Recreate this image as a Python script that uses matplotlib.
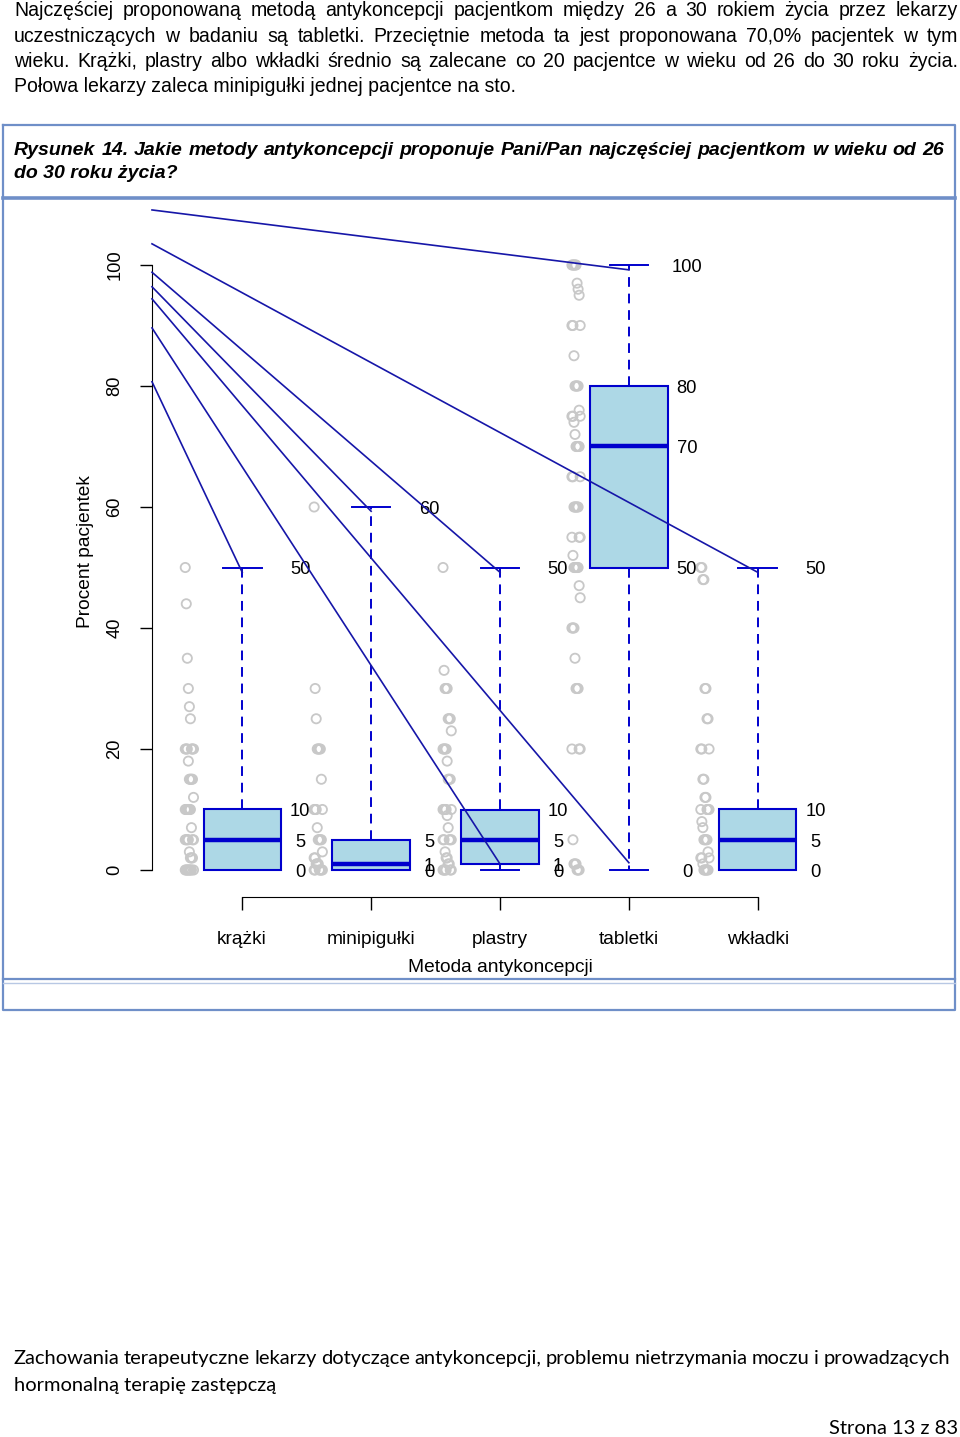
import numpy as np
import matplotlib.pyplot as plt
from matplotlib import font_manager

W, H = 960, 1437

methods = ['krążki', 'minipigułki', 'plastry', 'tabletki', 'wkładki']
w_low = [0, 0, 0, 0, 0]
q1 = [0, 0, 1, 50, 0]
med = [5, 1, 5, 70, 5]
q3 = [10, 5, 10, 80, 10]
w_high = [50, 60, 50, 100, 50]

# numbers printed next to each box
box_labels = [[50, 10, 5, 0], [60, 5, 1, 0], [50, 10, 5, 1, 0],
              [100, 80, 70, 50, 0], [50, 10, 5, 0]]

# single answers (stripchart to the left of each box)
pts_krazki = [50, 44, 35, 30, 27, 25, 20, 20, 20, 20, 20, 20, 18, 15, 15, 15, 15, 12,
              10, 10, 10, 10, 10, 10, 7, 5, 5, 5, 5, 5, 5, 3, 2, 2, 2,
              0, 0, 0, 0, 0, 0, 0, 0]
pts_mini = [60, 30, 25, 20, 20, 20, 20, 15, 10, 10, 10, 10, 7, 5, 5, 5, 5, 3, 2, 2,
            1, 1, 1, 0, 0, 0, 0, 0, 0]
pts_plastry = [50, 33, 30, 30, 30, 25, 25, 25, 23, 20, 20, 20, 20, 18, 15, 15, 15,
               10, 10, 10, 10, 10, 9, 7, 5, 5, 5, 5, 5, 3, 2, 2, 1, 1,
               0, 0, 0, 0, 0, 0]
pts_tabletki = [100, 100, 100, 100, 100, 97, 96, 95, 90, 90, 90, 85, 80, 80, 80, 80,
                76, 75, 75, 75, 74, 72, 70, 70, 70, 70, 65, 65, 65, 60, 60, 60, 60, 60,
                55, 55, 55, 52, 50, 50, 50, 50, 50, 47, 45, 40, 40, 40, 35, 30, 30, 30,
                20, 20, 20, 5, 1, 1, 1, 0, 0, 0]
pts_wkladki = [50, 50, 48, 48, 30, 30, 25, 25, 20, 20, 20, 15, 15, 12, 12,
               10, 10, 10, 10, 8, 7, 5, 5, 5, 5, 3, 2, 2, 2, 1, 0, 0, 0, 0, 0]
points = [pts_krazki, pts_mini, pts_plastry, pts_tabletki, pts_wkladki]

# stray leader lines from the y axis to the whisker ends
lead_y0 = [109.1, 103.5, 98.8, 96.4, 94.4, 89.6, 80.7]
lead_x1 = [4, 5, 3, 2, 4, 3, 1]
lead_y1 = [99.2, 49.2, 49.2, 59.3, 1.2, 1.0, 49.2]

paragraph = [
    'Najczęściej proponowaną metodą antykoncepcji pacjentkom między 26 a 30 rokiem życia przez lekarzy',
    'uczestniczących w badaniu są tabletki. Przeciętnie metoda ta jest proponowana 70,0% pacjentek w tym',
    'wieku. Krążki, plastry albo wkładki średnio są zalecane co 20 pacjentce w wieku od 26 do 30 roku życia.',
    'Połowa lekarzy zaleca minipigułki jednej pacjentce na sto.',
]
title = ['Rysunek 14. Jakie metody antykoncepcji proponuje Pani/Pan najczęściej pacjentkom w wieku od 26',
         'do 30 roku życia?']
footer = ['Zachowania terapeutyczne lekarzy dotyczące antykoncepcji, problemu nietrzymania moczu i prowadzących',
          'hormonalną terapię zastępczą']

fig = plt.figure(figsize=(W / 100, H / 100), dpi=100)
renderer = fig.canvas.get_renderer()

bg = fig.add_axes([0, 0, 1, 1], zorder=0)
bg.set_xlim(0, W)
bg.set_ylim(H, 0)
bg.axis('off')

ARIAL = 'Liberation Sans'
installed = {f.name for f in font_manager.fontManager.ttflist}
NARROW = 'Liberation Sans Narrow' if 'Liberation Sans Narrow' in installed else ARIAL
CALIBRI = 'Lato'


def width_of(s, size, **kw):
    t = bg.text(0, 0, s, fontsize=size, **kw)
    w = t.get_window_extent(renderer).width
    t.remove()
    return w


def fit(s, target, **kw):
    return 10 * target / width_of(s, 10, **kw)


def justify(line, y, x0, x1, size, **kw):
    words = line.split()
    objs = [bg.text(0, y, w, fontsize=size, va='baseline', **kw) for w in words]
    widths = [o.get_window_extent(renderer).width for o in objs]
    gap = (x1 - x0 - sum(widths)) / (len(words) - 1)
    x = x0
    for o, w in zip(objs, widths):
        o.set_x(x)
        x += w + gap


# paragraph above the figure
ps = fit(paragraph[3], 502, family=ARIAL)
for i, line in enumerate(paragraph[:3]):
    justify(line, 16 + 25.5 * i, 14, 958, ps, family=ARIAL)
bg.text(14, 16 + 25.5 * 3, paragraph[3], fontsize=ps, va='baseline', family=ARIAL)

# frame with title
frame = '#6f8fc8'
bg.plot([3, 955, 955, 3, 3], [125, 125, 1010, 1010, 125], color=frame, lw=1.6)
bg.plot([3, 955], [197.5, 197.5], color=frame, lw=2.6)
bg.plot([3, 955], [978.5, 978.5], color=frame, lw=1.6)
bg.plot([3, 955], [982.5, 982.5], color='#b8c8e4', lw=1.0)
ts = fit(title[1], 164, family=NARROW, weight='bold', style='italic')
justify(title[0], 155, 14, 944, ts, family=NARROW, weight='bold', style='italic')
bg.text(14, 178, title[1], fontsize=ts, va='baseline', family=NARROW,
        weight='bold', style='italic')

# footer
fs = fit(footer[1], 263, family=CALIBRI)
justify(footer[0], 1364, 14, 950, fs, family=CALIBRI)
bg.text(14, 1391, footer[1], fontsize=fs, va='baseline', family=CALIBRI)
bg.text(958, 1434, 'Strona 13 z 83', fontsize=fs, va='baseline', ha='right', family=CALIBRI)

# chart axes: x 0.3..5.7 -> px 152..848, y -4.4..104.4
y0_px, px_per = 870, 6.05
ylo, yhi = -4.4, 104.4
bottom_px = y0_px - ylo * px_per
top_px = y0_px - yhi * px_per
ax = fig.add_axes([152 / W, 1 - bottom_px / H, 696 / W, (bottom_px - top_px) / H], zorder=1)
ax.patch.set_visible(False)
ax.set_xlim(0.3, 5.7)
ax.set_ylim(ylo, yhi)

blue = '#0000cd'
pos = np.arange(1, 6)
bw = 0.6
for i, p in enumerate(pos):
    ax.add_patch(plt.Rectangle((p - bw / 2, q1[i]), bw, q3[i] - q1[i],
                               facecolor='#add8e6', edgecolor=blue, lw=1.5, zorder=3))
    ax.plot([p - bw / 2, p + bw / 2], [med[i], med[i]], color=blue, lw=3.2,
            solid_capstyle='butt', zorder=4)
    ax.plot([p, p], [q3[i], w_high[i]], color=blue, lw=1.4, ls=(0, (5, 3.5)), zorder=2)
    ax.plot([p, p], [q1[i], w_low[i]], color=blue, lw=1.4, ls=(0, (5, 3.5)), zorder=2)
    for v in (w_high[i], w_low[i]):
        ax.plot([p - 0.15, p + 0.15], [v, v], color=blue, lw=1.4, zorder=2)
    for v in box_labels[i]:
        ax.text(p + 0.45, v - 0.4, str(v), ha='center', va='center', fontsize=13.2,
                family=ARIAL, zorder=5)
    vals = points[i]
    xs = [p - 0.41 + ((k * 37) % 9 - 4) * 0.008 for k in range(len(vals))]
    ax.scatter(xs, vals, s=44, facecolors='none', edgecolors='#c8c8c8', lw=1.3, zorder=2,
               clip_on=False)

for y0, x1, y1 in zip(lead_y0, lead_x1, lead_y1):
    ax.plot([0.3, x1], [y0, y1], color='#1616a8', lw=1.2, zorder=6, clip_on=False)

for side in ('top', 'right'):
    ax.spines[side].set_visible(False)
ax.spines['left'].set_bounds(0, 100)
ax.spines['bottom'].set_bounds(1, 5)
ax.set_yticks([0, 20, 40, 60, 80, 100])
ax.set_yticklabels(['0', '20', '40', '60', '80', '100'], rotation=90, va='center',
                   fontsize=13.2, family=ARIAL)
ax.set_xticks(pos)
ax.set_xticklabels([])
ax.tick_params(axis='y', length=8.6, width=1, pad=12)
ax.tick_params(axis='x', length=9, width=1)

for p, m in zip(pos, methods):
    bg.text(242 + (p - 1) * 129, 940, m, ha='center', va='center', fontsize=13.8, family=ARIAL)
bg.text(500, 968, 'Metoda antykoncepcji', ha='center', va='center', fontsize=13.8, family=ARIAL)
bg.text(85, 552, 'Procent pacjentek', ha='center', va='center', rotation=90,
        fontsize=13.8, family=ARIAL)

fig.savefig('out.png', dpi=100)
